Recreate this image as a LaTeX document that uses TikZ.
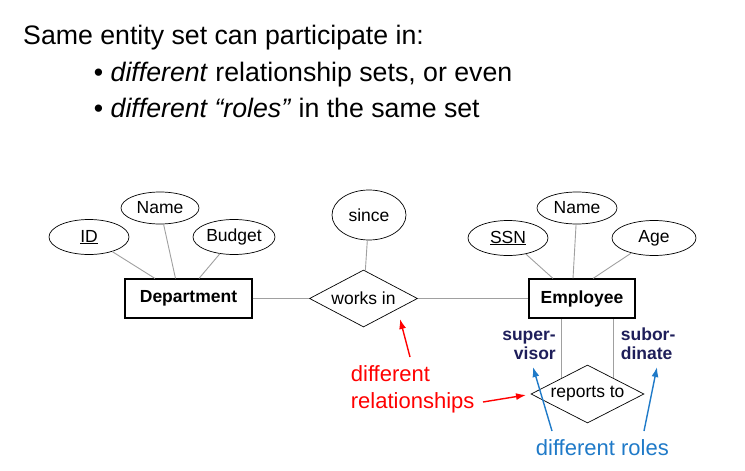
\documentclass[tikz,border=0pt]{standalone}
\usepackage{fontspec}
\setmainfont{Liberation Sans}
\usetikzlibrary{shapes.geometric,arrows.meta,calc}
\definecolor{redc}{HTML}{FF0000}
\definecolor{bluec}{HTML}{1F7AC8}
\definecolor{navyc}{HTML}{1E1E5A}
\definecolor{connc}{HTML}{A0A0A0}
\begin{document}
\begin{tikzpicture}[x=1pt,y=-1pt,
  attr/.style={draw=black, line width=0.7pt, ellipse, inner sep=0pt, font=\fontsize{17.5}{21}\selectfont},
  ent/.style={draw=black, line width=1.1pt, rectangle, inner sep=0pt, font=\bfseries\fontsize{17.5}{21}\selectfont},
  rel/.style={draw=black, line width=0.7pt, diamond, aspect=2, inner sep=0pt, font=\fontsize{17.5}{21}\selectfont},
  conn/.style={draw=connc, line width=0.9pt},
  redarrow/.style={draw=redc, line width=1.4pt, -{Latex[length=10pt,width=7pt]}},
  bluearrow/.style={draw=bluec, line width=1.4pt, -{Latex[length=10pt,width=7pt]}},
  roletext/.style={inner sep=0pt, text=navyc, font=\bfseries\fontsize{17.5}{19.3}\selectfont},
  headtext/.style={anchor=base west, inner sep=0pt, font=\fontsize{26.7}{32}\selectfont}
]
\useasboundingbox (0,0) rectangle (745,471);

% heading
\node[headtext] (title) at (23,45) {Same entity set can participate in:};
\node[headtext] (b1) at (93.7,81) {• \textit{different} relationship sets, or even};
\node[headtext] (b2) at (93.7,117) {• \textit{different “roles”} in the same set};

% entities
\node[ent, minimum width=127pt, minimum height=39pt] (dept) at (188.5,298.5) {Department};
\node[ent, minimum width=106pt, minimum height=39pt] (emp) at (582,298.5) {Employee};

% attributes
\node[attr, minimum width=80pt, minimum height=35pt] (id) at (89,237) {\underline{ID}};
\node[attr, minimum width=78pt, minimum height=32pt] (dname) at (160,208) {Name};
\node[attr, minimum width=82pt, minimum height=35pt] (budget) at (234,237) {Budget};
\node[attr, minimum width=74pt, minimum height=50pt] (since) at (369,215) {since};
\node[attr, minimum width=80pt, minimum height=35pt] (ssn) at (508,238) {\underline{SSN}};
\node[attr, minimum width=80pt, minimum height=32pt] (ename) at (577,208) {Name};
\node[attr, minimum width=84pt, minimum height=35pt] (age) at (654,238) {Age};

% relationships
\node[rel, minimum width=108pt, minimum height=57pt] (works) at (363.5,298.5) {works in};
\node[rel, minimum width=113pt, minimum height=58pt] (rep) at (587.5,394) {reports to};

% connectors
\draw[conn] (id) -- ([xshift=-33.5pt]dept.north);
\draw[conn] (dname) -- ([xshift=-13pt]dept.north);
\draw[conn] (budget) -- ([xshift=10.5pt]dept.north);
\draw[conn] (ssn) -- ([xshift=-29pt]emp.north);
\draw[conn] (ename) -- ([xshift=-9pt]emp.north);
\draw[conn] (age) -- ([xshift=11pt]emp.north);
\draw[conn] (since) -- (works);
\draw[conn] (dept) -- (works);
\draw[conn] (works) -- (emp);
\coordinate (repL) at ($(rep.west)!0.55!(rep.north)$);
\coordinate (repR) at ($(rep.east)!0.55!(rep.north)$);
\draw[conn] (repL) -- (repL |- emp.south);
\draw[conn] (repR) -- (repR |- emp.south);

% role labels (base anchor = last line)
\node[roletext, anchor=base east, align=right] (sup) at (556,359.3) {super-\\visor};
\node[roletext, anchor=base west, align=left] (sub) at (620.7,359.3) {subor-\\dinate};

% annotations
\node[anchor=base west, inner sep=0pt, text=redc, align=left, font=\fontsize{22}{26.6}\selectfont] (diffrel) at (350.7,408.3) {different\\relationships};
\node[anchor=base west, inner sep=0pt, text=bluec, font=\fontsize{22}{26}\selectfont] (diffroles) at (535.7,455) {different roles};

\coordinate (ra1s) at (410,357);
\coordinate (ra1e) at (400,319);
\coordinate (ra2s) at (483,402);
\coordinate (ra2e) at (526,395);
\coordinate (ba1s) at (552,431);
\coordinate (ba1e) at (533,367);
\coordinate (ba2s) at (644,431);
\coordinate (ba2e) at (657,367);
\draw[redarrow] (ra1s) -- (ra1e);
\draw[redarrow] (ra2s) -- (ra2e);
\draw[bluearrow] (ba1s) -- (ba1e);
\draw[bluearrow] (ba2s) -- (ba2e);
\end{tikzpicture}
\end{document}
